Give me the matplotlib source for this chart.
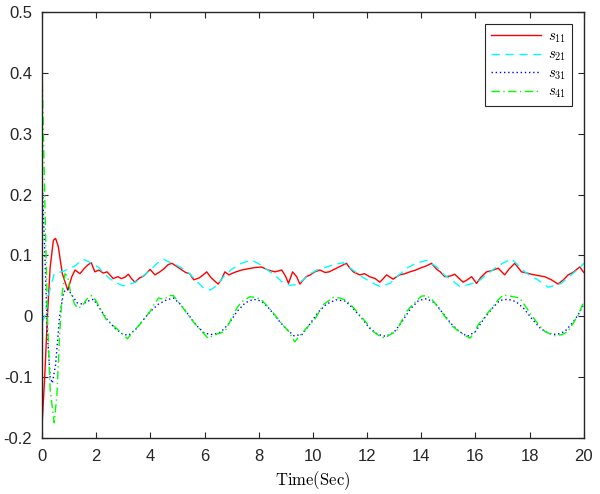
import numpy as np
import matplotlib.pyplot as plt

plt.rcParams['mathtext.fontset'] = 'cm'
plt.rcParams['font.family'] = ['Liberation Sans', 'DejaVu Sans']

# s11 (red, solid)
t11 = [0, 0.1, 0.2, 0.3, 0.42, 0.5, 0.6, 0.75, 0.95, 1.1, 1.22, 1.4, 1.55, 1.71, 1.82, 1.95,
       2.1, 2.26, 2.4, 2.63, 2.8, 2.93, 3.05, 3.19, 3.3, 3.43, 3.6, 3.75, 3.86, 3.99, 4.17,
       4.35, 4.5, 4.66, 4.8, 4.97, 5.1, 5.3, 5.45, 5.6, 5.8, 5.95, 6.08, 6.25, 6.5, 6.62,
       6.75, 6.9, 7.1, 7.37, 7.6, 7.85, 8.1, 8.35, 8.6, 8.85, 9.0, 9.1, 9.25, 9.4, 9.52,
       9.75, 9.9, 10.07, 10.26, 10.45, 10.6, 10.87, 11.05, 11.24, 11.35, 11.49, 11.73, 11.9,
       12.1, 12.3, 12.47, 12.6, 12.72, 12.96, 13.2, 13.4, 13.58, 13.8, 13.95, 14.2, 14.38,
       14.55, 14.7, 14.87, 15.06, 15.24, 15.4, 15.55, 15.7, 15.86, 16.04, 16.2, 16.41, 16.6,
       16.84, 17.08, 17.25, 17.45, 17.7, 17.9, 18.07, 18.3, 18.56, 18.8, 19.05, 19.25, 19.42,
       19.6, 19.85, 20.0]
s11 = [-0.18, -0.1, 0.0, 0.08, 0.125, 0.128, 0.115, 0.07, 0.043, 0.065, 0.076, 0.07, 0.078,
       0.085, 0.088, 0.073, 0.076, 0.071, 0.073, 0.062, 0.065, 0.062, 0.064, 0.069, 0.062,
       0.056, 0.063, 0.066, 0.071, 0.077, 0.068, 0.073, 0.078, 0.085, 0.087, 0.082, 0.078,
       0.072, 0.07, 0.06, 0.063, 0.068, 0.073, 0.063, 0.053, 0.06, 0.073, 0.068, 0.072,
       0.076, 0.078, 0.08, 0.081, 0.076, 0.073, 0.076, 0.065, 0.054, 0.073, 0.065, 0.053,
       0.065, 0.068, 0.073, 0.076, 0.072, 0.073, 0.079, 0.083, 0.087, 0.08, 0.073, 0.068,
       0.07, 0.065, 0.062, 0.056, 0.062, 0.068, 0.061, 0.068, 0.07, 0.073, 0.076, 0.079,
       0.083, 0.087, 0.078, 0.073, 0.065, 0.066, 0.069, 0.062, 0.056, 0.06, 0.065, 0.054,
       0.064, 0.073, 0.075, 0.079, 0.068, 0.078, 0.087, 0.073, 0.071, 0.069, 0.067, 0.065,
       0.06, 0.053, 0.06, 0.068, 0.072, 0.081, 0.072]

# s21 (cyan, dashed)
t21 = [0, 0.1, 0.2, 0.3, 0.45, 0.6, 0.8, 1.0, 1.2, 1.4, 1.55, 1.71, 1.9, 2.1, 2.3, 2.5, 2.75,
       3.0, 3.2, 3.49, 3.75, 3.99, 4.25, 4.48, 4.7, 4.97, 5.2, 5.45, 5.7, 5.95, 6.2, 6.45,
       6.7, 7.0, 7.3, 7.55, 7.8, 8.05, 8.3, 8.6, 8.85, 9.15, 9.4, 9.65, 9.9, 10.2, 10.5,
       10.8, 11.12, 11.35, 11.6, 11.85, 12.1, 12.47, 12.84, 13.15, 13.46, 13.8, 14.2, 14.57,
       14.87, 15.06, 15.42, 15.75, 16.1, 16.4, 16.72, 17.0, 17.33, 17.6, 17.82, 18.05, 18.3,
       18.67, 18.9, 19.17, 19.4, 19.67, 19.85, 20.0]
s21 = [-0.01, 0.0, 0.025, 0.045, 0.07, 0.072, 0.074, 0.079, 0.082, 0.09, 0.093, 0.09, 0.085,
       0.08, 0.07, 0.062, 0.055, 0.05, 0.052, 0.057, 0.067, 0.076, 0.087, 0.094, 0.089,
       0.084, 0.078, 0.07, 0.058, 0.047, 0.043, 0.05, 0.065, 0.077, 0.086, 0.09, 0.091,
       0.085, 0.077, 0.067, 0.057, 0.051, 0.052, 0.06, 0.07, 0.077, 0.081, 0.085, 0.088,
       0.08, 0.072, 0.064, 0.057, 0.049, 0.054, 0.067, 0.079, 0.087, 0.092, 0.081, 0.067,
       0.062, 0.049, 0.052, 0.057, 0.068, 0.079, 0.087, 0.094, 0.083, 0.073, 0.066, 0.06,
       0.048, 0.05, 0.054, 0.063, 0.073, 0.08, 0.087]

# s31 (blue, dotted)
t31 = [0, 0.1, 0.2, 0.3, 0.38, 0.5, 0.65, 0.8, 0.95, 1.1, 1.3, 1.5, 1.7, 1.9, 2.1, 2.4, 2.7,
       3.0, 3.2, 3.45, 3.7, 4.0, 4.3, 4.6, 4.85, 5.1, 5.4, 5.7, 6.0, 6.3, 6.6, 6.9, 7.2,
       7.5, 7.8, 8.1, 8.4, 8.7, 9.0, 9.3, 9.6, 9.9, 10.2, 10.5, 10.85, 11.2, 11.5, 11.8,
       12.1, 12.4, 12.7, 13.0, 13.3, 13.6, 13.9, 14.2, 14.5, 14.8, 15.1, 15.4, 15.7, 16.0,
       16.3, 16.6, 16.9, 17.2, 17.5, 17.8, 18.1, 18.4, 18.7, 19.0, 19.3, 19.6, 19.8, 20.0]
s31 = [0.23, 0.11, -0.03, -0.1, -0.11, -0.08, 0.0, 0.04, 0.045, 0.035, 0.022, 0.02, 0.025,
       0.028, 0.015, -0.005, -0.02, -0.03, -0.031, -0.022, -0.008, 0.008, 0.02, 0.027, 0.03,
       0.02, 0.003, -0.015, -0.028, -0.03, -0.026, -0.012, 0.008, 0.022, 0.028, 0.025,
       0.012, -0.005, -0.02, -0.032, -0.03, -0.012, 0.007, 0.02, 0.027, 0.025, 0.012,
       -0.003, -0.02, -0.03, -0.033, -0.026, -0.008, 0.012, 0.026, 0.029, 0.022, 0.005,
       -0.012, -0.025, -0.033, -0.025, -0.005, 0.012, 0.026, 0.028, 0.024, 0.012, -0.005,
       -0.02, -0.028, -0.03, -0.025, -0.01, 0.003, 0.02]

# s41 (green, dash-dot)
t41 = [0, 0.1, 0.2, 0.3, 0.45, 0.55, 0.65, 0.75, 0.85, 0.95, 1.05, 1.2, 1.34, 1.5, 1.65, 1.83,
       2.0, 2.2, 2.38, 2.6, 2.8, 3.0, 3.15, 3.35, 3.6, 3.8, 3.99, 4.15, 4.3, 4.5, 4.7, 4.85,
       5.1, 5.35, 5.6, 5.9, 6.13, 6.4, 6.75, 7.0, 7.2, 7.37, 7.67, 7.9, 8.1, 8.35, 8.6,
       8.85, 9.1, 9.33, 9.55, 9.8, 10.07, 10.38, 10.75, 11.0, 11.24, 11.5, 11.73, 12.0,
       12.22, 12.45, 12.65, 12.85, 13.08, 13.25, 13.46, 13.7, 14.0, 14.2, 14.43, 14.7, 14.9,
       15.1, 15.3, 15.55, 15.8, 15.95, 16.1, 16.35, 16.6, 16.8, 17.02, 17.3, 17.63, 17.85,
       18.07, 18.3, 18.56, 18.93, 19.2, 19.42, 19.6, 19.79, 20.0]
s41 = [0.41, 0.2, 0.0, -0.12, -0.175, -0.13, -0.03, 0.04, 0.07, 0.065, 0.04, 0.02, 0.013,
       0.018, 0.028, 0.034, 0.025, 0.008, -0.006, -0.014, -0.022, -0.03, -0.037, -0.026,
       -0.014, -0.003, 0.008, 0.02, 0.03, 0.028, 0.034, 0.034, 0.02, 0.005, -0.01, -0.025,
       -0.036, -0.03, -0.025, -0.003, 0.014, 0.024, 0.032, 0.031, 0.027, 0.015, 0.002,
       -0.012, -0.025, -0.042, -0.03, -0.018, -0.005, 0.019, 0.031, 0.03, 0.026, 0.014,
       0.002, -0.012, -0.025, -0.032, -0.036, -0.03, -0.025, -0.01, 0.008, 0.02, 0.033,
       0.034, 0.026, 0.01, -0.002, -0.014, -0.022, -0.03, -0.036, -0.028, -0.014, 0.0,
       0.013, 0.025, 0.035, 0.033, 0.03, 0.016, 0.002, -0.012, -0.025, -0.032, -0.03,
       -0.025, -0.012, 0.002, 0.024]

fig = plt.figure(figsize=(6, 4.94), dpi=100)
ax = fig.add_axes([0.07, 0.1134, 0.903, 0.8623])

ax.plot(t11, s11, color='#ff0000', lw=1.0, label=r'$s_{11}$')
ax.plot(t21, s21, color='#00ffff', lw=1.0, ls=(0, (6, 4)), label=r'$s_{21}$')
ax.plot(t31, s31, color='#0000ff', lw=1.0, ls=(0, (1, 2)), label=r'$s_{31}$')
ax.plot(t41, s41, color='#00ff00', lw=1.0, ls=(0, (6, 2.5, 1, 2.5)), label=r'$s_{41}$')

ax.set_xlim(0, 20)
ax.set_ylim(-0.2, 0.5)
ax.set_xticks(np.arange(0, 21, 2))
ax.set_yticks(np.arange(-0.2, 0.51, 0.1))
ax.set_yticklabels(['-0.2', '-0.1', '0', '0.1', '0.2', '0.3', '0.4', '0.5'])
ax.tick_params(direction='in', top=True, right=True, labelsize=12, length=4,
               color='#262626', labelcolor='#262626')
ax.tick_params(axis='x', pad=8)
ax.tick_params(axis='y', pad=7)
for sp in ax.spines.values():
    sp.set_color('#262626')
    sp.set_linewidth(1.0)

ax.set_xlabel(r'$\mathrm{Time(Sec)}$', fontsize=12, labelpad=4)

leg = ax.legend(loc='upper right', fontsize=10.5, fancybox=False, framealpha=1,
                edgecolor='#262626', handlelength=3.4, borderaxespad=0.8,
                labelspacing=0.2, handletextpad=0.5, borderpad=0.4)
leg.get_frame().set_linewidth(0.8)

fig.savefig('out.png', dpi=100)
